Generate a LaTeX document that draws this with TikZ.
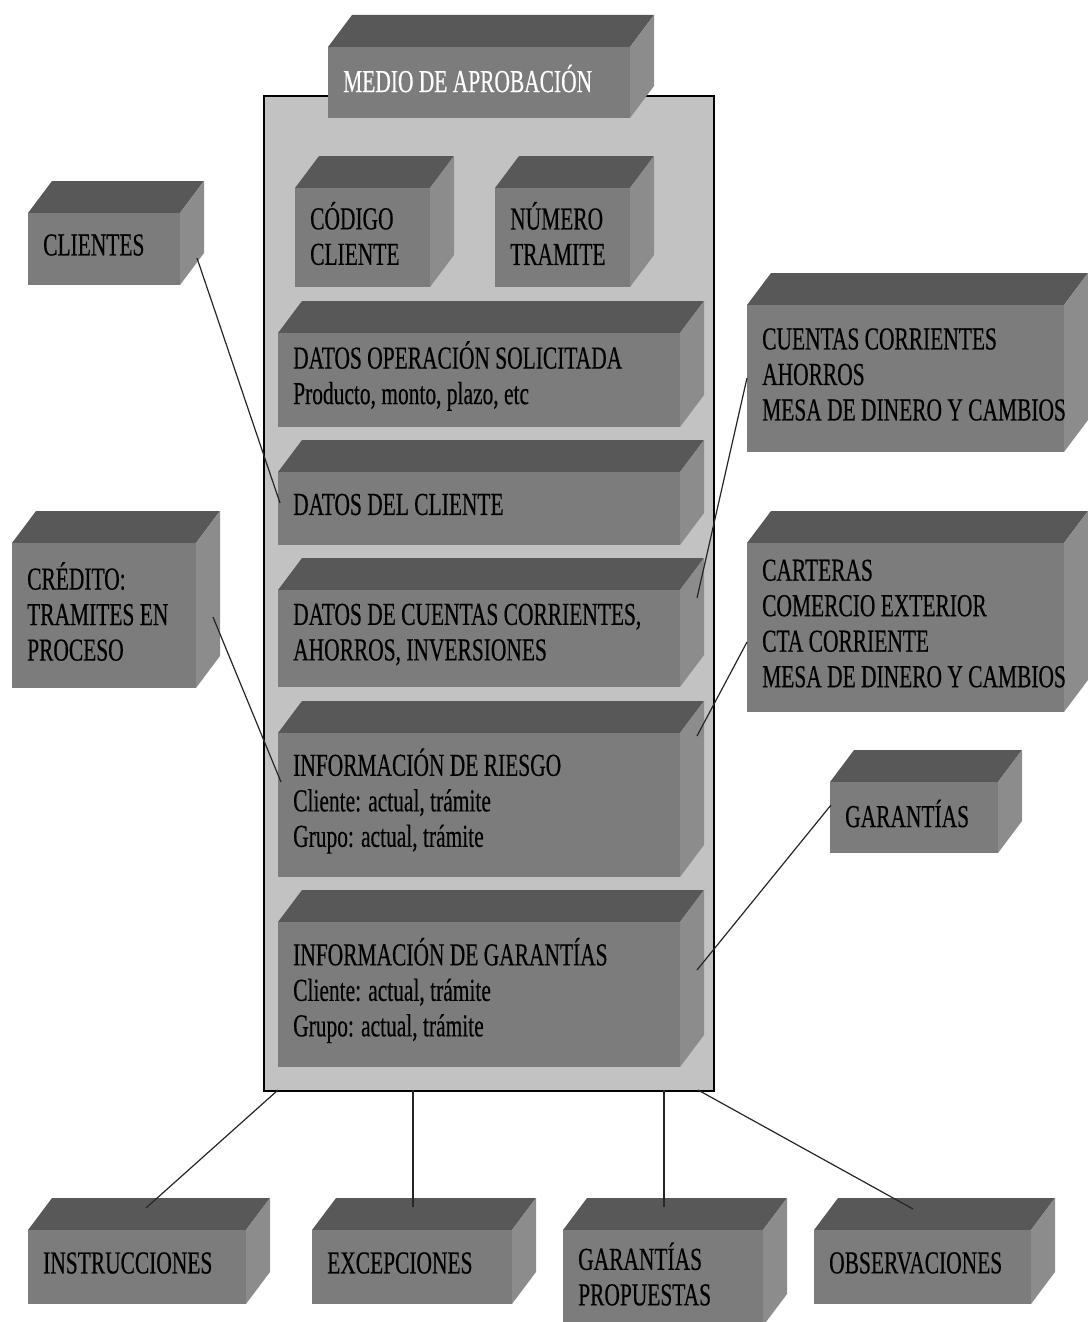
\documentclass[tikz,border=0pt]{standalone}
\usepackage{fontspec}
\setmainfont{Liberation Serif}[FakeStretch=0.67,FakeBold=0.4]
\usetikzlibrary{calc}
\definecolor{cubefrontc}{RGB}{124,124,124}
\definecolor{cubetopc}{RGB}{88,88,88}
\definecolor{cubesidec}{RGB}{140,140,140}
\definecolor{panelc}{RGB}{194,194,194}
\tikzset{
  cubefront/.style={fill=cubefrontc, inner sep=0pt, anchor=north west},
  cubetext/.style={anchor=west, align=left, inner sep=0pt, yshift=4pt, font=\fontsize{32}{35.5}\selectfont},
  panel/.style={draw=black, line width=1.5pt, fill=panelc, inner sep=0pt, anchor=north west},
  link/.style={draw=black!85, line width=1.2pt},
}
% #1 name, (#2,#3) front top left, (#4,#5) front bottom right, #6 text
\newcommand\cubebox[6]{%
  \fill[cubetopc] (#2,#3) -- (#2+24,#3-32) -- (#4+24,#3-32) -- (#4,#3) -- cycle;
  \fill[cubesidec] (#4,#3) -- (#4+24,#3-32) -- (#4+24,#5-32) -- (#4,#5) -- cycle;
  \pgfmathsetmacro\cbw{#4-#2}\pgfmathsetmacro\cbh{#5-#3}
  \node[cubefront, minimum width=\cbw pt, minimum height=\cbh pt] (#1) at (#2,#3) {};
  \node[cubetext] (#1-txt) at (#2+15,{(#3+#5)/2}) {#6};
}

\begin{document}
\begin{tikzpicture}[x=1pt,y=-1pt]
	\useasboundingbox (0,0) rectangle (1087,1322);
	
	\node[panel, minimum width=450pt, minimum height=995pt] (panel) at (263,95) {};
	
	\cubebox{medio}{328}{47}{630}{118}{\color{white}MEDIO DE APROBACIÓN}
	\cubebox{codigo}{295}{188}{430}{287}{CÓDIGO\\CLIENTE}
	\cubebox{numero}{495}{188}{630}{287}{NÚMERO\\TRAMITE}
	\cubebox{operacion}{278}{333}{680}{427}{DATOS OPERACIÓN SOLICITADA\\Producto, monto, plazo, etc}
	\cubebox{dcliente}{278}{472}{680}{545}{DATOS DEL CLIENTE}
	\cubebox{dcuentas}{278}{590}{680}{687}{DATOS DE CUENTAS CORRIENTES,\\AHORROS, INVERSIONES}
	\cubebox{riesgo}{278}{733}{680}{877}{INFORMACIÓN DE RIESGO\\Cliente: actual, trámite\\Grupo: actual, trámite}
	\cubebox{igarantias}{278}{922}{680}{1067}{INFORMACIÓN DE GARANTÍAS\\Cliente: actual, trámite\\Grupo: actual, trámite}
	
	\cubebox{clientes}{28}{213}{180}{285}{CLIENTES}
	\cubebox{credito}{12}{543}{196}{688}{CRÉDITO:\\TRAMITES EN\\PROCESO}
	
	\cubebox{cuentas}{747}{305}{1064}{452}{CUENTAS CORRIENTES\\AHORROS\\MESA DE DINERO Y CAMBIOS}
	\cubebox{carteras}{747}{543}{1064}{712}{CARTERAS\\COMERCIO EXTERIOR\\CTA CORRIENTE\\MESA DE DINERO Y CAMBIOS}
	\cubebox{garantias}{830}{782}{998}{853}{GARANTÍAS}
	
	\cubebox{instr}{28}{1230}{246}{1304}{INSTRUCCIONES}
	\cubebox{excep}{312}{1230}{512}{1304}{EXCEPCIONES}
	\cubebox{gprop}{563}{1230}{763}{1326}{GARANTÍAS\\PROPUESTAS}
	\cubebox{obs}{814}{1230}{1031}{1304}{OBSERVACIONES}
	
	% connector ends
	\coordinate (clientes-e) at (197,258);
	\coordinate (dcliente-w) at (280,503);
	\coordinate (credito-e) at (213,617);
	\coordinate (riesgo-w) at (281,782);
	\coordinate (cuentas-w) at (747,378);
	\coordinate (dcuentas-e) at (697,598);
	\coordinate (carteras-w) at (747,642);
	\coordinate (riesgo-e) at (697,736);
	\coordinate (garantias-w) at (831,805);
	\coordinate (igarantias-e) at (697,970);
	\coordinate (panel-a) at (278,1090);
	\coordinate (panel-b) at (413,1090);
	\coordinate (panel-c) at (664,1090);
	\coordinate (panel-d) at (698,1090);
	\coordinate (instr-n) at (146,1208);
	\coordinate (excep-n) at (413,1207);
	\coordinate (gprop-n) at (664,1207);
	\coordinate (obs-n) at (913,1209);
	
	\draw[link] (clientes-e) -- (dcliente-w);
	\draw[link] (credito-e) -- (riesgo-w);
	\draw[link] (cuentas-w) -- (dcuentas-e);
	\draw[link] (carteras-w) -- (riesgo-e);
	\draw[link] (garantias-w) -- (igarantias-e);
	\draw[link] (panel-a) -- (instr-n);
	\draw[link] (panel-b) -- (excep-n);
	\draw[link] (panel-c) -- (gprop-n);
	\draw[link] (panel-d) -- (obs-n);
\end{tikzpicture}
\end{document}
